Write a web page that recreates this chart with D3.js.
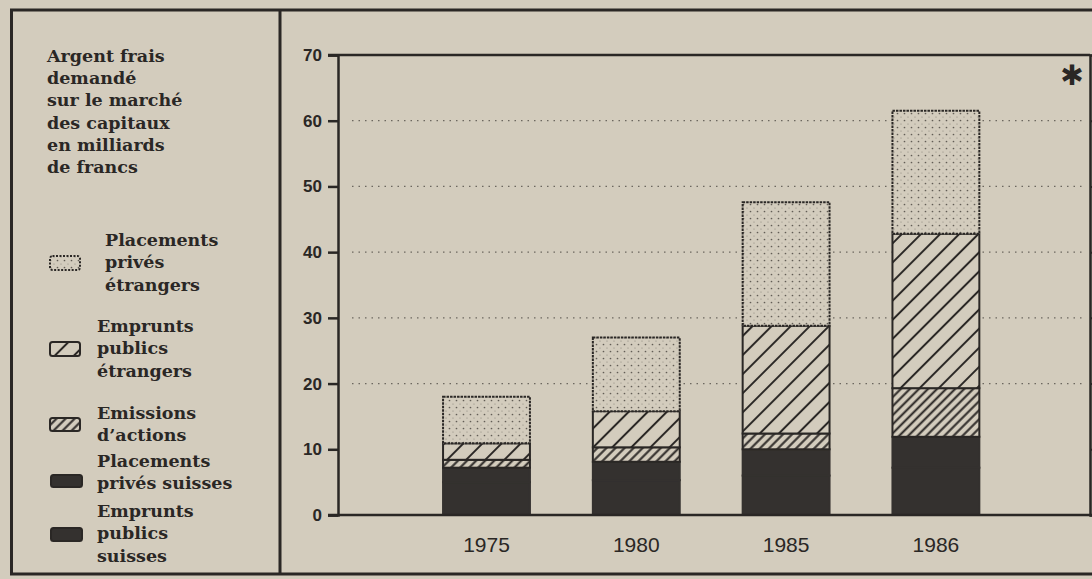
<!DOCTYPE html>
<html>
<head>
<meta charset="utf-8">
<script src="https://cdn.jsdelivr.net/npm/d3@7"></script>
<style>
  html, body { margin: 0; padding: 0; background: #d3ccbd; }
  svg { display: block; }
</style>
</head>
<body>
<svg id="chart" width="1092" height="579"></svg>
<script>
// Argent frais demandé sur le marché des capitaux (milliards de francs)
const years = ['1975', '1980', '1985', '1986'];
const empruntsPublicsSuisses = [5.0, 5.3, 6.0, 7.2];
const placementsPrivesSuisses = [2.2, 2.8, 4.0, 4.7];
const emissionsActions = [1.2, 2.2, 2.4, 7.4];
const empruntsPublicsEtrangers = [2.5, 5.5, 16.4, 23.5];
const placementsPrivesEtrangers = [7.1, 11.2, 18.8, 18.7];
const yTicks = [0, 10, 20, 30, 40, 50, 60, 70];
const gridTicks = [20, 30, 40, 50, 60];
const titleLines = ['Argent frais', 'demandé', 'sur le marché', 'des capitaux', 'en milliards', 'de francs'];

const INK = '#2a2725', BG = '#d3ccbd', SOLID = '#34312f';

const svg = d3.select('#chart');
const defs = svg.append('defs');

// patterns
const dots = defs.append('pattern').attr('id', 'dots').attr('patternUnits', 'userSpaceOnUse')
  .attr('width', 7).attr('height', 7);
dots.append('rect').attr('width', 7).attr('height', 7).attr('fill', BG);
dots.append('circle').attr('cx', 1.5).attr('cy', 1.5).attr('r', 0.85).attr('fill', '#625d55');
dots.append('circle').attr('cx', 5).attr('cy', 5).attr('r', 0.6).attr('fill', '#8a847a');

function hatch(id, s, w) {
  const p = defs.append('pattern').attr('id', id).attr('patternUnits', 'userSpaceOnUse')
    .attr('width', s).attr('height', s).attr('patternTransform', 'rotate(45)');
  p.append('rect').attr('width', s).attr('height', s).attr('fill', BG);
  p.append('line').attr('x1', s / 2).attr('x2', s / 2).attr('y1', 0).attr('y2', s)
    .attr('stroke', INK).attr('stroke-width', w);
}
hatch('wide', 13.5, 2);
hatch('narrow', 6.4, 2);

const series = [
  { key: 'eps', name: 'Emprunts publics suisses', values: empruntsPublicsSuisses, fill: SOLID },
  { key: 'pps', name: 'Placements privés suisses', values: placementsPrivesSuisses, fill: SOLID },
  { key: 'ea', name: 'Emissions d’actions', values: emissionsActions, fill: 'url(#narrow)' },
  { key: 'epe', name: 'Emprunts publics étrangers', values: empruntsPublicsEtrangers, fill: 'url(#wide)' },
  { key: 'ppe', name: 'Placements privés étrangers', values: placementsPrivesEtrangers, fill: 'url(#dots)' }
];

const table = years.map((y, i) => {
  const row = { year: y };
  series.forEach(s => { row[s.key] = s.values[i]; });
  return row;
});
const stacked = d3.stack().keys(series.map(s => s.key))(table);

// outer frame
const frame = svg.append('g').attr('stroke', INK).attr('stroke-width', 3).attr('fill', 'none');
frame.append('line').attr('x1', 10).attr('x2', 1092).attr('y1', 10).attr('y2', 10);
frame.append('line').attr('x1', 11.5).attr('x2', 11.5).attr('y1', 10).attr('y2', 574);
frame.append('line').attr('x1', 10).attr('x2', 1092).attr('y1', 574).attr('y2', 574);
frame.append('line').attr('x1', 280).attr('x2', 280).attr('y1', 10).attr('y2', 574);

// plot scales
const PL = 338, PR = 1090, PT = 55, PB = 515;
const x = d3.scaleBand().domain(years).range([PL, PR]).paddingInner(0.42).paddingOuter(0.72).align(0.487);
const y = d3.scaleLinear().domain([0, 70]).range([PB, PT]);

// dotted grid
svg.append('g').selectAll('line').data(gridTicks).join('line')
  .attr('x1', 352).attr('x2', PR - 4).attr('y1', d => y(d)).attr('y2', d => y(d))
  .attr('stroke', '#4a4640').attr('stroke-width', 1.2).attr('stroke-dasharray', '1.5,5').attr('opacity', 0.75);

// bars
const layers = svg.append('g').selectAll('g').data(stacked).join('g');
layers.each(function (layer, li) {
  const s = series[li];
  const g = d3.select(this);
  g.selectAll('rect').data(layer).join('rect')
    .attr('x', d => x(d.data.year))
    .attr('width', x.bandwidth())
    .attr('y', d => y(d[1]))
    .attr('height', d => y(d[0]) - y(d[1]))
    .attr('fill', s.fill)
    .attr('stroke', s.fill === SOLID ? SOLID : INK)
    .attr('stroke-width', 2)
    .attr('stroke-dasharray', s.key === 'ppe' ? '2.5,1' : null);
});

// axes
const left = svg.append('g').attr('transform', `translate(${PL},0)`)
  .call(d3.axisLeft(y).tickValues(yTicks).tickSize(10).tickPadding(6));
left.select('.domain').attr('stroke', INK).attr('stroke-width', 2.5);
left.selectAll('.tick line').attr('stroke', INK).attr('stroke-width', 2.5);
left.selectAll('.tick text').attr('font-family', '"Liberation Sans", Arial, sans-serif')
  .attr('font-weight', 'bold').attr('font-size', 17).attr('fill', INK);

const right = svg.append('g').attr('transform', `translate(${PR},0)`)
  .call(d3.axisLeft(y).tickValues(yTicks).tickSize(-5).tickFormat(''));
right.select('.domain').attr('stroke', INK).attr('stroke-width', 2.5);
right.selectAll('.tick line').attr('stroke', INK).attr('stroke-width', 2);

svg.append('line').attr('x1', PL - 10).attr('x2', PR).attr('y1', PT).attr('y2', PT)
  .attr('stroke', INK).attr('stroke-width', 2.5);
svg.append('line').attr('x1', PL - 10).attr('x2', 1092).attr('y1', PB).attr('y2', PB)
  .attr('stroke', INK).attr('stroke-width', 2.5);

const bottom = svg.append('g').attr('transform', `translate(0,${PB})`)
  .call(d3.axisBottom(x).tickSize(0).tickPadding(18));
bottom.select('.domain').remove();
bottom.selectAll('.tick text').attr('font-family', '"Liberation Sans", Arial, sans-serif')
  .attr('font-size', 21).attr('fill', INK).attr('dy', '0.9em');

// asterisk mark
svg.append('text').attr('x', 1072).attr('y', 85).attr('text-anchor', 'middle')
  .attr('font-family', '"DejaVu Sans", sans-serif').attr('font-size', 28).attr('fill', INK).text('✱');

// title
const serif = '"DejaVu Serif", "Liberation Serif", serif';
svg.append('text').attr('x', 47).attr('y', 62).attr('font-family', serif).attr('font-weight', 'bold')
  .attr('font-size', 17.5).attr('fill', INK)
  .selectAll('tspan').data(titleLines).join('tspan')
  .attr('x', 47).attr('dy', (d, i) => i ? 22.2 : 0).text(d => d);

// legend
const legend = [
  { lines: ['Placements', 'privés', 'étrangers'], tx: 105, ty: 246, sw: { x: 50, y: 256, w: 30, h: 14 }, fill: 'url(#dots)', dash: '2,1.5' },
  { lines: ['Emprunts', 'publics', 'étrangers'], tx: 97, ty: 332, sw: { x: 50, y: 342, w: 30, h: 14 }, fill: 'url(#wide)' },
  { lines: ['Emissions', 'd’actions'], tx: 97, ty: 419, sw: { x: 50, y: 418, w: 30, h: 13 }, fill: 'url(#narrow)' },
  { lines: ['Placements', 'privés suisses'], tx: 97, ty: 467, sw: { x: 51, y: 475, w: 31, h: 12 }, fill: SOLID },
  { lines: ['Emprunts', 'publics', 'suisses'], tx: 97, ty: 517, sw: { x: 51, y: 528, w: 31, h: 13 }, fill: SOLID }
];
const lg = svg.append('g').selectAll('g').data(legend).join('g');
lg.append('rect').attr('x', d => d.sw.x).attr('y', d => d.sw.y).attr('width', d => d.sw.w).attr('height', d => d.sw.h)
  .attr('rx', 2.5).attr('fill', d => d.fill).attr('stroke', INK).attr('stroke-width', 2)
  .attr('stroke-dasharray', d => d.dash || null);
lg.append('text').attr('y', d => d.ty).attr('font-family', serif).attr('font-weight', 'bold')
  .attr('font-size', 17.5).attr('fill', INK)
  .each(function (d) {
    d3.select(this).selectAll('tspan').data(d.lines).join('tspan')
      .attr('x', d.tx).attr('dy', (l, i) => i ? 22.3 : 0).text(l => l);
  });
</script>
</body>
</html>
